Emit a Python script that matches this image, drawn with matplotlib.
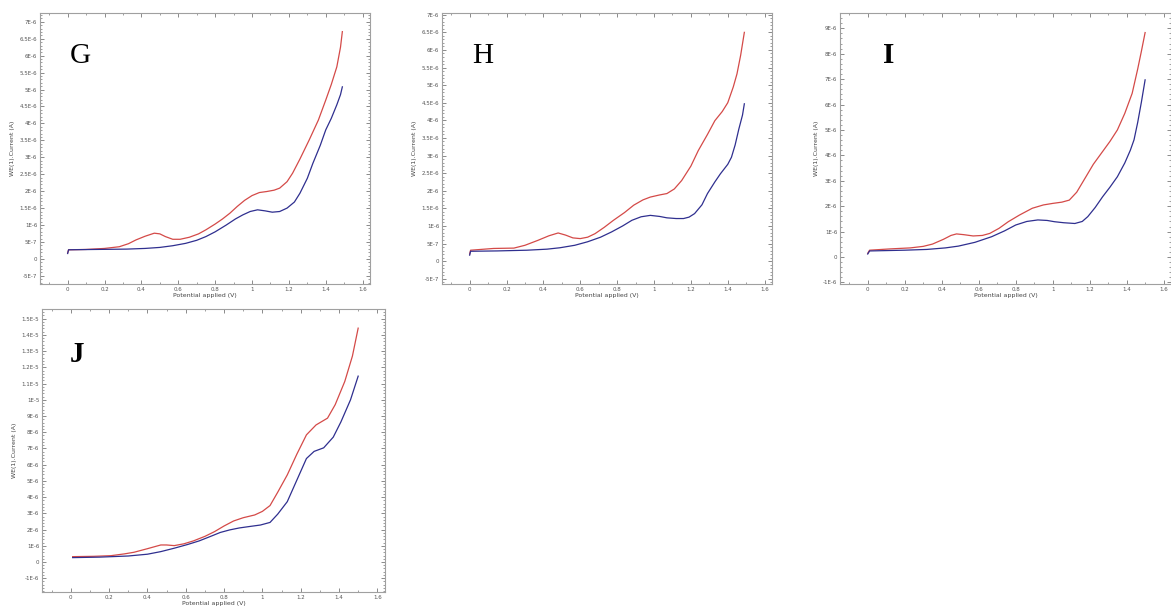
import numpy as np
import matplotlib
matplotlib.use("Agg")
import matplotlib.pyplot as plt
from matplotlib.ticker import MultipleLocator, AutoMinorLocator, FuncFormatter

# Linear sweep voltammograms, current in units of 1E-6 A
g_red_v = [0.00, 0.005, 0.10, 0.20, 0.28, 0.33, 0.37, 0.42, 0.47, 0.50, 0.53, 0.57, 0.61, 0.66, 0.71, 0.75,
           0.80, 0.84, 0.88, 0.92, 0.96, 1.00, 1.04, 1.08, 1.12, 1.15, 1.19, 1.22, 1.26, 1.31, 1.36, 1.40,
           1.43, 1.46, 1.48, 1.49]
g_red_i = [0.18, 0.27, 0.28, 0.31, 0.36, 0.45, 0.56, 0.67, 0.76, 0.74, 0.66, 0.58, 0.58, 0.64, 0.74, 0.86,
           1.03, 1.18, 1.35, 1.55, 1.73, 1.87, 1.96, 1.99, 2.03, 2.09, 2.28, 2.53, 2.95, 3.51, 4.10, 4.69,
           5.15, 5.67, 6.25, 6.71]
g_blue_v = [0.00, 0.005, 0.15, 0.32, 0.42, 0.50, 0.57, 0.64, 0.70, 0.75, 0.80, 0.86, 0.91, 0.95, 0.99, 1.03,
            1.07, 1.11, 1.15, 1.19, 1.23, 1.26, 1.30, 1.33, 1.37, 1.40, 1.43, 1.46, 1.48, 1.49]
g_blue_i = [0.16, 0.27, 0.28, 0.29, 0.31, 0.34, 0.39, 0.46, 0.55, 0.66, 0.80, 1.00, 1.18, 1.30, 1.40, 1.45,
            1.42, 1.38, 1.40, 1.50, 1.68, 1.94, 2.38, 2.82, 3.35, 3.81, 4.15, 4.55, 4.85, 5.08]

h_red_v = [0.00, 0.005, 0.13, 0.24, 0.30, 0.37, 0.43, 0.48, 0.52, 0.56, 0.60, 0.64, 0.68, 0.73, 0.78, 0.84,
           0.89, 0.94, 0.98, 1.03, 1.07, 1.11, 1.15, 1.20, 1.24, 1.29, 1.33, 1.37, 1.40, 1.43, 1.45, 1.47, 1.49]
h_red_i = [0.20, 0.31, 0.36, 0.37, 0.45, 0.59, 0.72, 0.80, 0.74, 0.66, 0.64, 0.68, 0.78, 0.96, 1.16, 1.38,
           1.59, 1.74, 1.82, 1.88, 1.92, 2.05, 2.29, 2.70, 3.14, 3.60, 3.99, 4.25, 4.50, 4.95, 5.32, 5.85, 6.50]
h_blue_v = [0.00, 0.005, 0.15, 0.31, 0.42, 0.49, 0.57, 0.64, 0.71, 0.77, 0.83, 0.88, 0.93, 0.98, 1.03, 1.07,
            1.12, 1.16, 1.19, 1.22, 1.26, 1.29, 1.33, 1.36, 1.40, 1.42, 1.44, 1.46, 1.48, 1.49]
h_blue_i = [0.17, 0.28, 0.29, 0.31, 0.34, 0.38, 0.45, 0.55, 0.68, 0.83, 1.00, 1.16, 1.26, 1.30, 1.27, 1.23,
            1.21, 1.21, 1.25, 1.35, 1.60, 1.92, 2.25, 2.48, 2.75, 2.95, 3.30, 3.75, 4.15, 4.47]

i_red_v = [0.00, 0.01, 0.12, 0.23, 0.30, 0.35, 0.41, 0.45, 0.48, 0.52, 0.57, 0.62, 0.66, 0.71, 0.76, 0.82,
           0.89, 0.95, 1.00, 1.05, 1.09, 1.13, 1.18, 1.22, 1.27, 1.31, 1.35, 1.39, 1.43, 1.46, 1.48, 1.50]
i_red_i = [0.15, 0.27, 0.32, 0.36, 0.42, 0.51, 0.70, 0.85, 0.91, 0.88, 0.83, 0.85, 0.93, 1.13, 1.39, 1.65,
           1.92, 2.05, 2.11, 2.16, 2.24, 2.55, 3.16, 3.65, 4.15, 4.55, 5.00, 5.65, 6.44, 7.40, 8.10, 8.83]
i_blue_v = [0.00, 0.01, 0.20, 0.32, 0.42, 0.49, 0.58, 0.67, 0.74, 0.80, 0.86, 0.92, 0.97, 1.01, 1.06, 1.12,
            1.16, 1.19, 1.23, 1.27, 1.31, 1.35, 1.39, 1.42, 1.44, 1.46, 1.48, 1.50]
i_blue_i = [0.12, 0.24, 0.27, 0.30, 0.36, 0.43, 0.58, 0.80, 1.03, 1.26, 1.40, 1.46, 1.44, 1.39, 1.35, 1.32,
            1.40, 1.59, 1.95, 2.37, 2.75, 3.16, 3.70, 4.20, 4.61, 5.30, 6.10, 6.97]

j_red_v = [0.01, 0.12, 0.21, 0.28, 0.33, 0.40, 0.47, 0.50, 0.54, 0.59, 0.64, 0.70, 0.75, 0.80, 0.85, 0.90,
           0.96, 1.00, 1.04, 1.08, 1.13, 1.18, 1.23, 1.28, 1.34, 1.38, 1.43, 1.47, 1.50]
j_red_i = [0.33, 0.35, 0.39, 0.50, 0.60, 0.82, 1.05, 1.05, 1.01, 1.12, 1.30, 1.58, 1.87, 2.22, 2.53, 2.73,
           2.90, 3.12, 3.48, 4.30, 5.37, 6.65, 7.84, 8.45, 8.87, 9.70, 11.13, 12.70, 14.42]
j_blue_v = [0.01, 0.15, 0.30, 0.40, 0.47, 0.54, 0.61, 0.67, 0.73, 0.78, 0.83, 0.88, 0.94, 0.99, 1.04, 1.08,
            1.13, 1.18, 1.23, 1.27, 1.32, 1.37, 1.41, 1.46, 1.50]
j_blue_i = [0.27, 0.30, 0.37, 0.48, 0.64, 0.85, 1.08, 1.30, 1.58, 1.82, 1.98, 2.10, 2.20, 2.28, 2.44, 2.95,
            3.72, 5.05, 6.38, 6.82, 7.04, 7.70, 8.64, 10.00, 11.46]

panels = [
    # letter, red, blue, ylim (1E-6 A), y step, axes rect in px (left, top, width, height), letter pos, bold
    ("G", (g_red_v, g_red_i), (g_blue_v, g_blue_i), (-0.74, 7.26), 0.5, (40, 13, 330, 271), (0.091, 0.815), False),
    ("H", (h_red_v, h_red_i), (h_blue_v, h_blue_i), (-0.65, 7.05), 0.5, (442, 13, 330, 271), (0.091, 0.815), False),
    ("I", (i_red_v, i_red_i), (i_blue_v, i_blue_i), (-1.06, 9.60), 1.0, (840, 13, 331, 271), (0.13, 0.815), True),
    ("J", (j_red_v, j_red_i), (j_blue_v, j_blue_i), (-1.85, 15.6), 1.0, (42, 309, 343, 283), (0.082, 0.813), True),
]

W, H = 1171, 608
RED = "#d44a48"
BLUE = "#2f2f8f"
GREY = "#a0a0a0"


def sci_label(v, pos=None):
    v = v * 1e-6
    if abs(v) < 1e-12:
        return "0"
    exp = int(np.floor(np.log10(abs(v)) + 1e-9))
    mant = round(v / 10 ** exp, 2)
    return f"{mant:g}E{exp}"


fig = plt.figure(figsize=(W / 100, H / 100), dpi=100)

for letter, red, blue, ylim, ystep, (l, t, w, h), (tx, ty), bold in panels:
    ax = fig.add_axes([l / W, (H - t - h) / H, w / W, h / H])
    ax.plot(red[0], red[1], color=RED, lw=0.9, solid_joinstyle="round")
    ax.plot(blue[0], blue[1], color=BLUE, lw=0.9, solid_joinstyle="round")
    ax.set_xlim(-0.15, 1.64)
    ax.set_ylim(*ylim)

    ax.xaxis.set_major_locator(MultipleLocator(0.2))
    ax.xaxis.set_minor_locator(MultipleLocator(0.1))
    ax.yaxis.set_major_locator(MultipleLocator(ystep))
    ax.yaxis.set_minor_locator(AutoMinorLocator(5))
    ax.xaxis.set_major_formatter(FuncFormatter(lambda v, p: f"{v:g}"))
    ax.yaxis.set_major_formatter(FuncFormatter(sci_label))

    ax.tick_params(which="both", direction="in", top=True, right=True,
                   colors="#777777", labelcolor="#555555", labelsize=4)
    ax.tick_params(which="major", length=3, width=0.6, pad=2)
    ax.tick_params(which="minor", length=1.5, width=0.5)
    for s in ax.spines.values():
        s.set_color(GREY)
        s.set_linewidth(0.8)

    ax.set_xlabel("Potential applied (V)", fontsize=4.5, color="#444444", labelpad=1)
    ax.set_ylabel("WE(1).Current (A)", fontsize=4.5, color="#444444", labelpad=3)

    ax.text(tx, ty, letter, transform=ax.transAxes, ha="left", va="baseline",
            fontsize=21, family="Liberation Serif",
            fontweight="bold" if bold else "normal")

fig.savefig("out.png", dpi=100)
